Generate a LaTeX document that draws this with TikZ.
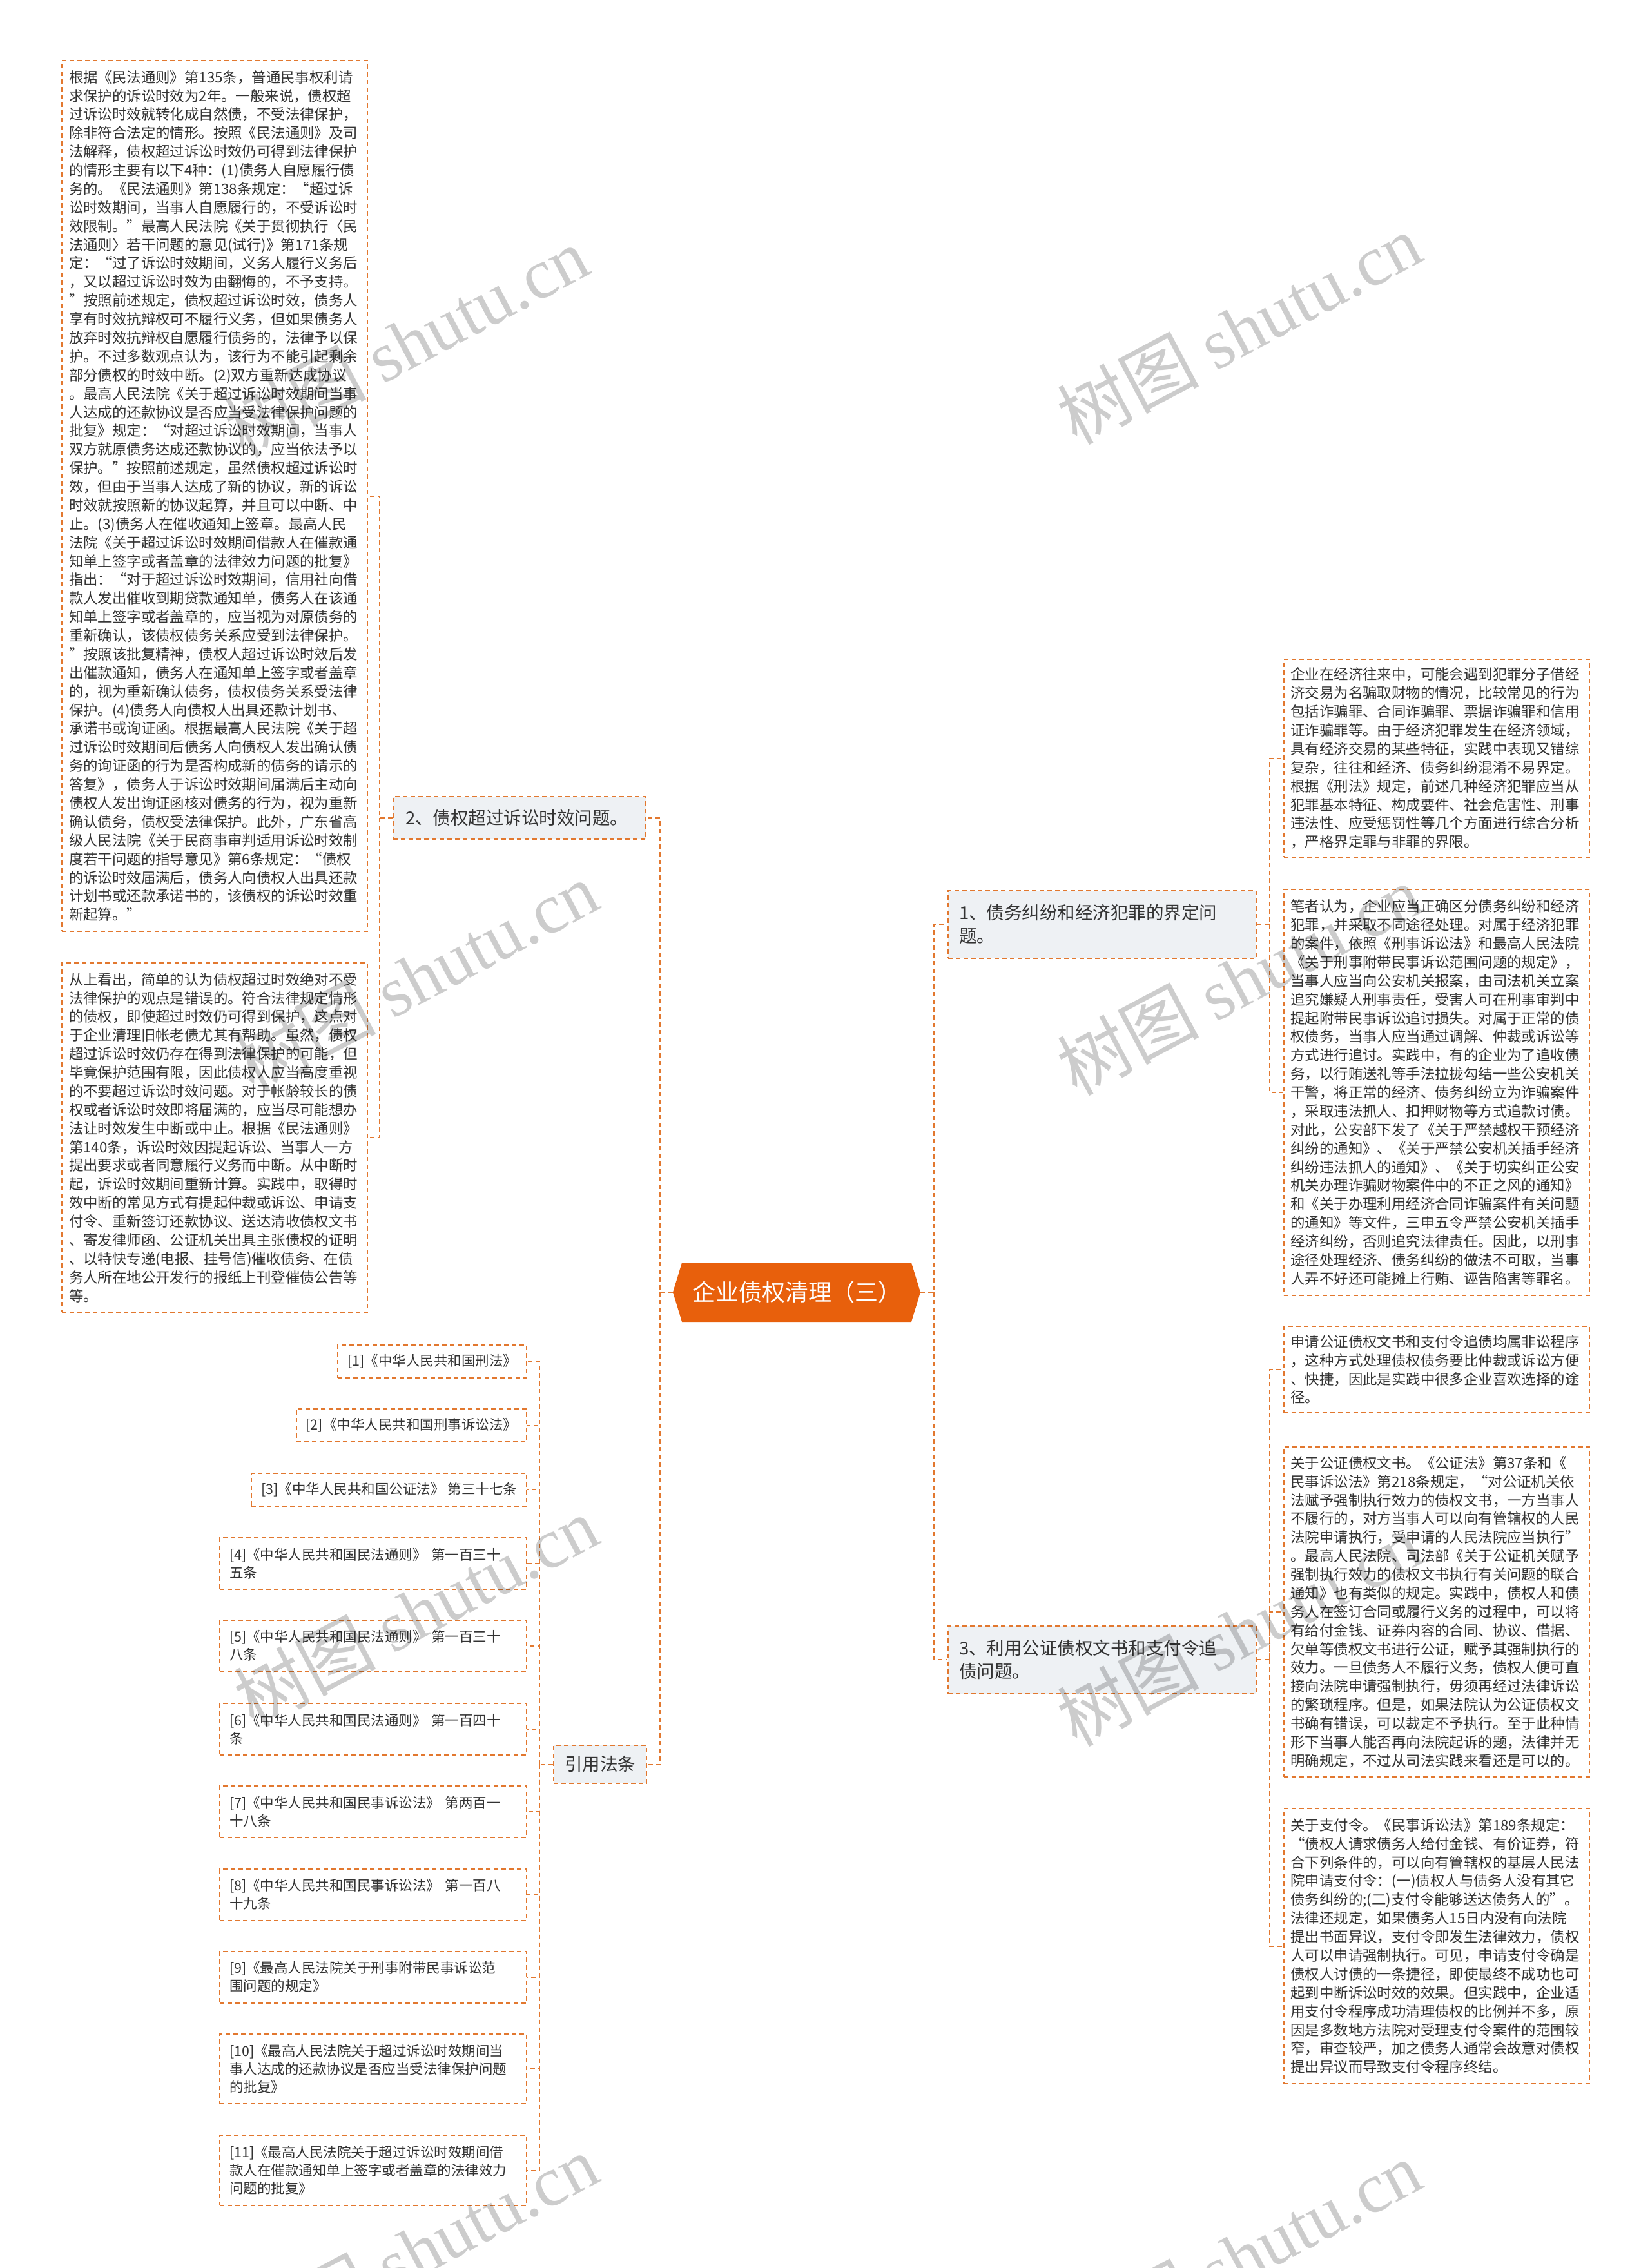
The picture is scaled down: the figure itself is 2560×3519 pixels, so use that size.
\documentclass[tikz,border=0pt]{standalone}
\usepackage{fontspec}
\setmainfont{Noto Sans CJK SC}
\newfontfamily\wmserif{Liberation Serif}
\usetikzlibrary{shapes.symbols,positioning}
\definecolor{rootor}{HTML}{E8600C}
\definecolor{dashor}{HTML}{E2782F}
\definecolor{branchbg}{HTML}{EEF1F4}
\definecolor{inkgray}{HTML}{333333}

\begin{document}
\begin{tikzpicture}[x=0.5pt,y=-0.5pt,
  dashline/.style={draw=dashor,line width=1pt,dash pattern=on 3.5pt off 2.5pt},
  link/.style={dashline},
  leaf/.style={dashline,fill=white,text=inkgray,align=left,inner xsep=5.5pt,inner ysep=0pt,
    text width=226pt,minimum width=237pt,font=\fontsize{11.2pt}{14.44pt}\selectfont},
  lawbox/.style={dashline,fill=white,text=inkgray,align=left,inner xsep=7.5pt,inner ysep=0pt,
    anchor=east,font=\fontsize{10.75pt}{14pt}\selectfont},
  lawwide/.style={lawbox,text width=223pt},
  branch/.style={dashline,fill=branchbg,text=inkgray,align=left,inner ysep=0pt,
    font=\fontsize{13.75pt}{18pt}\selectfont},
  root/.style={signal,signal to=west and east,signal pointer angle=146,fill=rootor,text=white,
    inner sep=0pt,minimum width=192pt,minimum height=46pt,font=\fontsize{18pt}{22pt}\selectfont},
  watermark/.style={rotate=28,text=black,opacity=0.2,font=\fontsize{55pt}{60pt}\selectfont}]
  \useasboundingbox (0,0) rectangle (2560,3519);
  \fill[white] (0,0) rectangle (2560,3519);

  \coordinate (t2) at (589,0);
  \coordinate (tl) at (1024,0);
  \coordinate (tc) at (837,0);
  \coordinate (tr) at (1449,0);
  \coordinate (tq) at (1970,0);

  \node[root] (root) at (1236,2005) {企业债权清理（三）};

  \node[branch,minimum width=196pt,minimum height=33pt,text width=177pt,inner xsep=9.5pt] (b2)
       at (806,1269) {2、债权超过诉讼时效问题。};
  \node[branch,minimum width=239pt,minimum height=52.5pt,text width=222pt,inner xsep=8.5pt] (b1)
       at (1710,1434) {1、债务纠纷和经济犯罪的界定问\\题。};
  \node[branch,minimum width=239pt,minimum height=52.5pt,text width=222pt,inner xsep=8.5pt] (b3)
       at (1710,2575) {3、利用公证债权文书和支付令追\\债问题。};
  \node[branch,minimum width=72pt,minimum height=29.5pt,align=center,inner xsep=8.5pt] (law)
       at (931,2737.5) {引用法条};

  \node[leaf,minimum height=675.5pt] (l1) at (333,769.5)
       {根据《民法通则》第135条，普通民事权利请\\
        求保护的诉讼时效为2年。一般来说，债权超\\
        过诉讼时效就转化成自然债，不受法律保护，\\
        除非符合法定的情形。按照《民法通则》及司\\
        法解释，债权超过诉讼时效仍可得到法律保护\\
        的情形主要有以下4种：(1)债务人自愿履行债\\
        务的。《民法通则》第138条规定：“超过诉\\
        讼时效期间，当事人自愿履行的，不受诉讼时\\
        效限制。”最高人民法院《关于贯彻执行〈民\\
        法通则〉若干问题的意见(试行)》第171条规\\
        定：“过了诉讼时效期间，义务人履行义务后\\
        ，又以超过诉讼时效为由翻悔的，不予支持。\\
        ”按照前述规定，债权超过诉讼时效，债务人\\
        享有时效抗辩权可不履行义务，但如果债务人\\
        放弃时效抗辩权自愿履行债务的，法律予以保\\
        护。不过多数观点认为，该行为不能引起剩余\\
        部分债权的时效中断。(2)双方重新达成协议\\
        。最高人民法院《关于超过诉讼时效期间当事\\
        人达成的还款协议是否应当受法律保护问题的\\
        批复》规定：“对超过诉讼时效期间，当事人\\
        双方就原债务达成还款协议的，应当依法予以\\
        保护。”按照前述规定，虽然债权超过诉讼时\\
        效，但由于当事人达成了新的协议，新的诉讼\\
        时效就按照新的协议起算，并且可以中断、中\\
        止。(3)债务人在催收通知上签章。最高人民\\
        法院《关于超过诉讼时效期间借款人在催款通\\
        知单上签字或者盖章的法律效力问题的批复》\\
        指出：“对于超过诉讼时效期间，信用社向借\\
        款人发出催收到期贷款通知单，债务人在该通\\
        知单上签字或者盖章的，应当视为对原债务的\\
        重新确认，该债权债务关系应受到法律保护。\\
        ”按照该批复精神，债权人超过诉讼时效后发\\
        出催款通知，债务人在通知单上签字或者盖章\\
        的，视为重新确认债务，债权债务关系受法律\\
        保护。(4)债务人向债权人出具还款计划书、\\
        承诺书或询证函。根据最高人民法院《关于超\\
        过诉讼时效期间后债务人向债权人发出确认债\\
        务的询证函的行为是否构成新的债务的请示的\\
        答复》，债务人于诉讼时效期间届满后主动向\\
        债权人发出询证函核对债务的行为，视为重新\\
        确认债务，债权受法律保护。此外，广东省高\\
        级人民法院《关于民商事审判适用诉讼时效制\\
        度若干问题的指导意见》第6条规定：“债权\\
        的诉讼时效届满后，债务人向债权人出具还款\\
        计划书或还款承诺书的，该债权的诉讼时效重\\
        新起算。”};
  \node[leaf,minimum height=271pt] (l2) at (333,1765)
       {从上看出，简单的认为债权超过时效绝对不受\\
        法律保护的观点是错误的。符合法律规定情形\\
        的债权，即使超过时效仍可得到保护，这点对\\
        于企业清理旧帐老债尤其有帮助。虽然，债权\\
        超过诉讼时效仍存在得到法律保护的可能，但\\
        毕竟保护范围有限，因此债权人应当高度重视\\
        的不要超过诉讼时效问题。对于帐龄较长的债\\
        权或者诉讼时效即将届满的，应当尽可能想办\\
        法让时效发生中断或中止。根据《民法通则》\\
        第140条，诉讼时效因提起诉讼、当事人一方\\
        提出要求或者同意履行义务而中断。从中断时\\
        起，诉讼时效期间重新计算。实践中，取得时\\
        效中断的常见方式有提起仲裁或诉讼、申请支\\
        付令、重新签订还款协议、送达清收债权文书\\
        、寄发律师函、公证机关出具主张债权的证明\\
        、以特快专递(电报、挂号信)催收债务、在债\\
        务人所在地公开发行的报纸上刊登催债公告等\\
        等。};

  \node[leaf,minimum height=153.5pt] (r1) at (2228.5,1176.5)
       {企业在经济往来中，可能会遇到犯罪分子借经\\
        济交易为名骗取财物的情况，比较常见的行为\\
        包括诈骗罪、合同诈骗罪、票据诈骗罪和信用\\
        证诈骗罪等。由于经济犯罪发生在经济领域，\\
        具有经济交易的某些特征，实践中表现又错综\\
        复杂，往往和经济、债务纠纷混淆不易界定。\\
        根据《刑法》规定，前述几种经济犯罪应当从\\
        犯罪基本特征、构成要件、社会危害性、刑事\\
        违法性、应受惩罚性等几个方面进行综合分析\\
        ，严格界定罪与非罪的界限。};
  \node[leaf,minimum height=315pt] (r2) at (2228.5,1695)
       {笔者认为，企业应当正确区分债务纠纷和经济\\
        犯罪，并采取不同途径处理。对属于经济犯罪\\
        的案件，依照《刑事诉讼法》和最高人民法院\\
        《关于刑事附带民事诉讼范围问题的规定》，\\
        当事人应当向公安机关报案，由司法机关立案\\
        追究嫌疑人刑事责任，受害人可在刑事审判中\\
        提起附带民事诉讼追讨损失。对属于正常的债\\
        权债务，当事人应当通过调解、仲裁或诉讼等\\
        方式进行追讨。实践中，有的企业为了追收债\\
        务，以行贿送礼等手法拉拢勾结一些公安机关\\
        干警，将正常的经济、债务纠纷立为诈骗案件\\
        ，采取违法抓人、扣押财物等方式追款讨债。\\
        对此，公安部下发了《关于严禁越权干预经济\\
        纠纷的通知》、《关于严禁公安机关插手经济\\
        纠纷违法抓人的通知》、《关于切实纠正公安\\
        机关办理诈骗财物案件中的不正之风的通知》\\
        和《关于办理利用经济合同诈骗案件有关问题\\
        的通知》等文件，三申五令严禁公安机关插手\\
        经济纠纷，否则追究法律责任。因此，以刑事\\
        途径处理经济、债务纠纷的做法不可取，当事\\
        人弄不好还可能摊上行贿、诬告陷害等罪名。};
  \node[leaf,minimum height=67pt] (r3) at (2228.5,2125)
       {申请公证债权文书和支付令追债均属非讼程序\\
        ，这种方式处理债权债务要比仲裁或诉讼方便\\
        、快捷，因此是实践中很多企业喜欢选择的途\\
        径。};
  \node[leaf,minimum height=256pt] (r4) at (2228.5,2501)
       {关于公证债权文书。《公证法》第37条和《\\
        民事诉讼法》第218条规定，“对公证机关依\\
        法赋予强制执行效力的债权文书，一方当事人\\
        不履行的，对方当事人可以向有管辖权的人民\\
        法院申请执行，受申请的人民法院应当执行”\\
        。最高人民法院、司法部《关于公证机关赋予\\
        强制执行效力的债权文书执行有关问题的联合\\
        通知》也有类似的规定。实践中，债权人和债\\
        务人在签订合同或履行义务的过程中，可以将\\
        有给付金钱、证券内容的合同、协议、借据、\\
        欠单等债权文书进行公证，赋予其强制执行的\\
        效力。一旦债务人不履行义务，债权人便可直\\
        接向法院申请强制执行，毋须再经过法律诉讼\\
        的繁琐程序。但是，如果法院认为公证债权文\\
        书确有错误，可以裁定不予执行。至于此种情\\
        形下当事人能否再向法院起诉的题，法律并无\\
        明确规定，不过从司法实践来看还是可以的。};
  \node[leaf,minimum height=213.5pt] (r5) at (2228.5,3019.5)
       {关于支付令。《民事诉讼法》第189条规定：\\
        “债权人请求债务人给付金钱、有价证券，符\\
        合下列条件的，可以向有管辖权的基层人民法\\
        院申请支付令：(一)债权人与债务人没有其它\\
        债务纠纷的;(二)支付令能够送达债务人的”。\\
        法律还规定，如果债务人15日内没有向法院\\
        提出书面异议，支付令即发生法律效力，债权\\
        人可以申请强制执行。可见，申请支付令确是\\
        债权人讨债的一条捷径，即使最终不成功也可\\
        起到中断诉讼时效的效果。但实践中，企业适\\
        用支付令程序成功清理债权的比例并不多，原\\
        因是多数地方法院对受理支付令案件的范围较\\
        窄，审查较严，加之债务人通常会故意对债权\\
        提出异议而导致支付令程序终结。};

  \node[lawbox,minimum height=25.5pt] (c1) at (818,2112.5) {[1]《中华人民共和国刑法》};
  \node[lawbox,minimum height=25.5pt] (c2) at (818,2211.5) {[2]《中华人民共和国刑事诉讼法》};
  \node[lawbox,minimum height=25.5pt] (c3) at (818,2311) {[3]《中华人民共和国公证法》~第三十七条};
  \node[lawwide,minimum height=40pt] (c4) at (818,2426)
       {[4]《中华人民共和国民法通则》~第一百三十\\五条};
  \node[lawwide,minimum height=40pt] (c5) at (818,2553.5)
       {[5]《中华人民共和国民法通则》~第一百三十\\八条};
  \node[lawwide,minimum height=40pt] (c6) at (818,2683)
       {[6]《中华人民共和国民法通则》~第一百四十\\条};
  \node[lawwide,minimum height=40pt] (c7) at (818,2811)
       {[7]《中华人民共和国民事诉讼法》~第两百一\\十八条};
  \node[lawwide,minimum height=40pt] (c8) at (818,2939.5)
       {[8]《中华人民共和国民事诉讼法》~第一百八\\十九条};
  \node[lawwide,minimum height=40pt] (c9) at (818,3067.5)
       {[9]《最高人民法院关于刑事附带民事诉讼范\\围问题的规定》};
  \node[lawwide,minimum height=54pt] (c10) at (818,3210)
       {[10]《最高人民法院关于超过诉讼时效期间当\\事人达成的还款协议是否应当受法律保护问题\\的批复》};
  \node[lawwide,minimum height=54.5pt] (c11) at (818,3367.5)
       {[11]《最高人民法院关于超过诉讼时效期间借\\款人在催款通知单上签字或者盖章的法律效力\\问题的批复》};

  \draw[link] (root.west) -- (tl |- root.west) |- (b2.east);
  \draw[link] (tl |- root.west) |- (law.east);
  \draw[link] (root.east) -- (tr |- root.east) |- (b1.west);
  \draw[link] (tr |- root.east) |- (b3.west);
  \draw[link] (b2.west) -- (t2 |- b2.west) |- (l1.east);
  \draw[link] (t2 |- b2.west) |- (l2.east);
  \draw[link] (b1.east) -- (tq |- b1.east) |- (r1.west);
  \draw[link] (tq |- b1.east) |- (r2.west);
  \draw[link] (b3.east) -- (tq |- b3.east) |- (r3.west);
  \draw[link] (tq |- b3.east) |- (r4.west);
  \draw[link] (tq |- b3.east) |- (r5.west);
  \draw[link] (law.west) -- (tc |- law.west);
  \foreach \i in {1,...,11}
  {
    \draw[link] (tc |- law.west) |- (c\i.east);
  }

  \foreach \wx/\wy [count=\k] in {630/530,645/1515,645/2500,645/3490,1922/510,1922/1520,1922/2530,1922/3500}
  {
    \node[watermark] (wm\k) at (\wx,\wy) {树图 {\wmserif shutu.cn}};
  }
\end{tikzpicture}
\end{document}
